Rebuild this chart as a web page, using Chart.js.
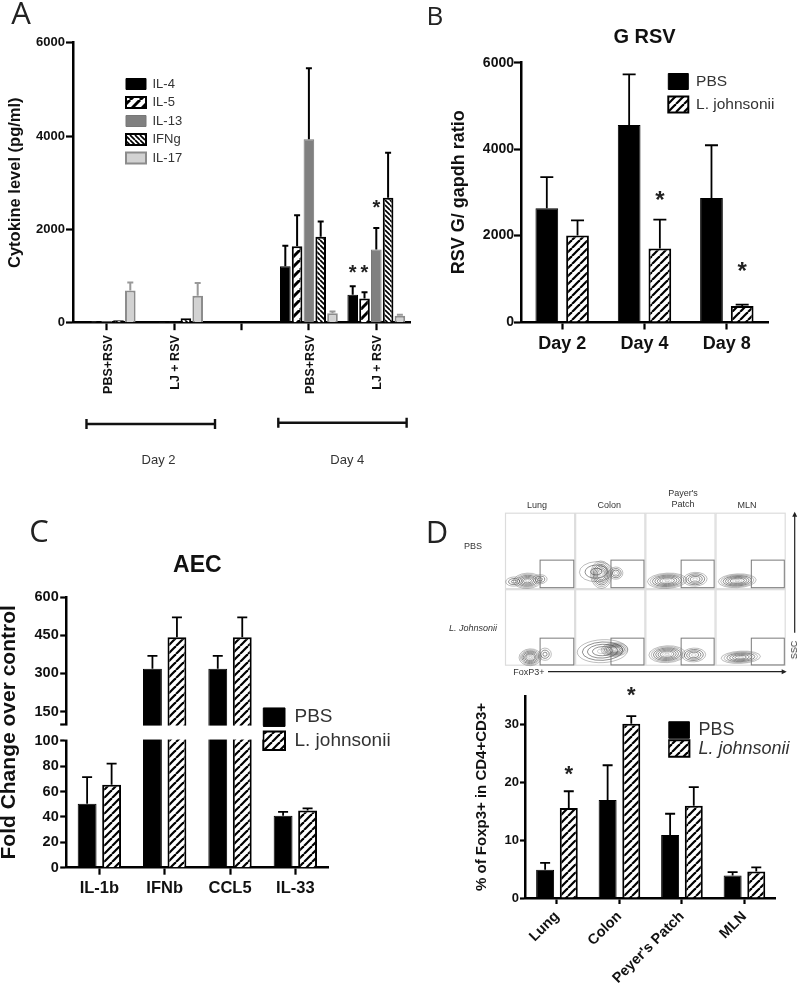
<!DOCTYPE html>
<html><head><meta charset="utf-8">
<script src="https://cdn.jsdelivr.net/npm/chart.js@4"></script>
<style>
html,body{margin:0;padding:0;background:#fff;width:800px;height:987px;overflow:hidden}
canvas{position:absolute}
.t{position:absolute;white-space:nowrap;transform:translate(-50%,-50%);font:9px "Liberation Sans",sans-serif;color:#333}
.l{position:absolute;transform:translate(-50%,-50%);font:400 30px "Open Sans",sans-serif;color:#222;line-height:1}
</style></head><body>
<script>
// ---------- DATA ----------
const aLabels=['PBS+RSV','LJ + RSV','','PBS+RSV','LJ + RSV'];
const aSeriesNames=['IL-4','IL-5','IL-13','IFNg','IL-17'];
const aIL4=[15,15,null,1210,600];
const aIL5=[25,15,null,1640,520];
const aIL13=[35,20,null,3930,1570];
const aIFNg=[50,95,null,1840,2680];
const aIL17=[690,580,null,200,150];
const aIL4Err=[null,null,null,1650,780];
const aIL5Err=[null,null,null,2300,650];
const aIL13Err=[null,null,null,5450,2030];
const aIFNgErr=[null,null,null,2170,3640];
const aIL17Err=[860,850,null,240,170];
const aStars=[[0,4,1150],[1,4,1150],[2,4,2540]];
const aGroups=[['Day 2',-0.3,1.607,0.77],['Day 4',2.546,4.45,3.57]];

const bLabels=['Day 2','Day 4','Day 8'];
const bPBS=[2630,4560,2870];
const bPBSErr=[3350,5730,4090];
const bLJ=[2000,1700,370];
const bLJErr=[2350,2370,400];
const bStars=[[1,1,2900],[1,2,1260]];

const cLabels=['IL-1b','IFNb','CCL5','IL-33'];
const cPBS=[50.4,318,318,41];
const cPBSErr=[71.4,369,369,44];
const cLJ=[65.4,442,442,45];
const cLJErr=[82,520,520,46.8];
const cTicks=[0,20,40,60,80,100,100.001,150,300,450,600];

const dLabels=['Lung','Colon',"Peyer's Patch",'MLN'];
const dPBS=[4.9,17,10.9,3.9];
const dPBSErr=[6.1,23,14.6,4.5];
const dLJ=[15.6,30.2,16,4.6];
const dLJErr=[18.5,31.5,19.2,5.3];
const dStars=[[1,0,22],[1,1,35.7]];

// contour clusters: column, row, centre x, centre y, radius x, radius y (percent of a cell), rings
const flowClusters=[
[0,0,32,89,20,10,7],[0,0,13,90,12,6,3],[0,0,50,87,10,6,3],
[1,0,37,81,15,18,8],[1,0,30,77,24,13,3],[1,0,58,79,10,8,4],
[2,0,31,89,28,10,8],[2,0,71,87,17,9,5],
[3,0,31,89,27,9,8],
[0,1,36,89,16,11,8],[0,1,57,85,9,8,3],
[1,1,56,79,19,9,8],[1,1,39,81,36,15,5],
[2,1,31,85,26,11,8],[2,1,69,86,17,9,5],
[3,1,36,89,28,8,7]];
const gateCols=[0.5,0.98];
const gateRows=[[0.62,0.98],[0.64,0.99]];
const flowTexts=[['Lung',537,504.7],['Colon',609.3,504.7],["Payer's",683,492.7],['Patch',683,504],['MLN',747,504.7],['PBS',473,546],['FoxP3+',529,671.7]];
const panelLetters=[['A',21,12,31],['B',435,15,26],['C',39,530,31],['D',437,531,31]];

// ---------- HELPERS ----------
const F='"Liberation Sans",Arial,sans-serif';
const bf=(s)=>({family:F,size:s,weight:'bold'});
function hatch(s,lw,back){
  const c=document.createElement('canvas');c.width=c.height=s;
  const g=c.getContext('2d');g.fillStyle='#fff';g.fillRect(0,0,s,s);
  g.strokeStyle='#000';g.lineWidth=lw;
  for(let k=-1;k<=1;k++){g.beginPath();
    if(back){g.moveTo(k*s,0);g.lineTo(k*s+s,s);}else{g.moveTo(k*s,s);g.lineTo(k*s+s,0);}
    g.stroke();}
  return g.createPattern(c,'repeat');
}
function mk(r){const c=document.createElement('canvas');c.width=r.w;c.height=r.h;c.style.left=r.l+'px';c.style.top=r.t+'px';document.body.appendChild(c);return c;}
function pad(r,p,yw,xh,th){return {padding:{left:p.x0-r.l-yw,right:r.l+r.w-p.x1,top:p.y0-r.t-(th||0),bottom:r.t+r.h-p.y1-xh}};}
function yAxis(o){return Object.assign({min:o.min,max:o.max,
  afterFit(s){s.width=o.w;s.paddingTop=0;s.paddingBottom=0;},
  border:{color:'#000',width:o.bw||2.5},
  grid:{drawOnChartArea:false,drawTicks:true,tickLength:o.tl,tickWidth:o.tw||2.2,tickColor:'#000'},
  title:{display:true,text:o.title,color:'#111',font:o.tf,padding:0},
  ticks:{stepSize:o.step,font:o.f,color:'#111',padding:o.p,includeBounds:false,callback:o.cb||(v=>String(v))}
},o.extra||{});}
function xAxis(o){return {
  afterFit(s){s.height=o.h;s.paddingLeft=0;s.paddingRight=0;},
  border:{color:'#000',width:o.bw||2.5},
  grid:{offset:false,drawOnChartArea:false,drawTicks:true,tickLength:o.tl,tickWidth:o.tw||2.2,tickColor:'#000'},
  ticks:{font:o.f,color:'#111',padding:o.p,autoSkip:false,minRotation:o.rot||0,maxRotation:o.rot||0,labelOffset:o.lo||0}
};}
function legendOpt(font,bw,bh,p,col){return {display:true,position:'chartArea',align:'start',
  labels:{font:font,boxWidth:bw,boxHeight:bh,padding:p,color:col||'#333'}};}
const marks=(lx,ly,stars,cap,lw,starSize)=>({id:'marks',
  beforeDraw(ch){const L=ch.legend;if(L&&L.options.display){const p=L.options.labels.padding;L.left=lx-p;L.top=ly-p;L.right=ch.width;L.bottom=ch.height;}},
  afterDatasetsDraw(ch){const g=ch.ctx,y=ch.scales.y;g.save();
    ch.data.datasets.forEach((d,i)=>{const m=ch.getDatasetMeta(i);(d.errorTop||[]).forEach((e,j)=>{
      if(e==null||d.data[j]==null)return;const b=m.data[j],top=y.getPixelForValue(e),v=y.getPixelForValue(d.data[j]);
      g.strokeStyle=d.errorColor||'#000';g.lineWidth=lw;g.beginPath();g.moveTo(b.x,v);g.lineTo(b.x,top);g.moveTo(b.x-cap/2,top);g.lineTo(b.x+cap/2,top);g.stroke();});});
    g.fillStyle='#222';g.font='bold '+starSize+'px '+F;g.textAlign='center';g.textBaseline='middle';
    (stars||[]).forEach(s=>{const b=ch.getDatasetMeta(s[0]).data[s[1]];g.fillText('*',b.x,y.getPixelForValue(s[2])+starSize*0.2);});
    g.restore();}
});
const base={responsive:false,animation:false,events:[]};
const ttl=(t,size,pb)=>({display:true,text:t,color:'#111',fullSize:false,font:bf(size),padding:{top:0,bottom:pb}});
const noTitle={display:false};
const tooltipOff={enabled:false};

// ---------- PANEL A ----------
(function(){
const r={l:0,t:0,w:420,h:480},p={x0:73,x1:410,y0:42.7,y1:322.7};
const bar={barPercentage:0.9,categoryPercentage:0.875};
const ds=[
 {label:aSeriesNames[0],data:aIL4,errorTop:aIL4Err,backgroundColor:'#000',borderColor:'#000',borderWidth:1,...bar},
 {label:aSeriesNames[1],data:aIL5,errorTop:aIL5Err,backgroundColor:hatch(10,3),borderColor:'#000',borderWidth:2,...bar},
 {label:aSeriesNames[2],data:aIL13,errorTop:aIL13Err,backgroundColor:'#808080',borderColor:'#777',borderWidth:1,...bar},
 {label:aSeriesNames[3],data:aIFNg,errorTop:aIFNgErr,backgroundColor:hatch(5,1.7,true),borderColor:'#000',borderWidth:2,...bar},
 {label:aSeriesNames[4],data:aIL17,errorTop:aIL17Err,errorColor:'#999',backgroundColor:'#d2d2d2',borderColor:'#8c8c8c',borderWidth:2,...bar}];
const groups={id:'groups',afterDraw(ch){const g=ch.ctx,x=ch.scales.x;g.save();g.strokeStyle='#111';g.lineWidth=2.4;g.fillStyle='#333';
  g.font='13px '+F;g.textAlign='center';g.textBaseline='middle';
  aGroups.forEach((a,i)=>{const x0=x.getPixelForValue(a[1]),x1=x.getPixelForValue(a[2]),yy=ch.chartArea.bottom+(i?100:101.3);
    g.beginPath();g.moveTo(x0,yy);g.lineTo(x1,yy);g.moveTo(x0,yy-5);g.lineTo(x0,yy+5);g.moveTo(x1,yy-5);g.lineTo(x1,yy+5);g.stroke();
    g.fillText(a[0],x.getPixelForValue(a[3]),ch.chartArea.bottom+138);});
  g.restore();}};
new Chart(mk(r),{type:'bar',data:{labels:aLabels,datasets:ds},
 plugins:[marks(126,77.5,aStars,6,2,20),groups],
 options:{...base,layout:pad(r,p,67,85),
  plugins:{title:noTitle,tooltip:tooltipOff,legend:legendOpt({family:F,size:13},20,11,5.5)},
  scales:{x:xAxis({h:85,tl:7.5,f:bf(12.5),p:5,rot:90,lo:1.5}),
   y:yAxis({min:0,max:6000,step:2000,w:67,tl:7,p:1,f:bf(13),title:'Cytokine level (pg/ml)',tf:Object.assign(bf(16.5),{lineHeight:1.2})})}}});
})();

// ---------- PANEL B ----------
(function(){
const r={l:420,t:0,w:380,h:370},p={x0:521,x1:768,y0:62.7,y1:322};
const bar={barPercentage:0.74,categoryPercentage:0.746};
new Chart(mk(r),{type:'bar',data:{labels:bLabels,datasets:[
 {label:'PBS',data:bPBS,errorTop:bPBSErr,backgroundColor:'#000',borderColor:'#000',borderWidth:1,...bar},
 {label:'L. johnsonii',data:bLJ,errorTop:bLJErr,backgroundColor:hatch(8,2.2),borderColor:'#000',borderWidth:2,...bar}]},
 plugins:[marks(248.3,73.5,bStars,13,1.8,24)],
 options:{...base,layout:pad(r,p,72.5,40,37),
  plugins:{title:ttl('G RSV',20,13),tooltip:tooltipOff,legend:legendOpt({family:F,size:15.5},20,16,7)},
  scales:{x:xAxis({h:40,tl:7.5,f:bf(18),p:4}),
   y:yAxis({min:0,max:6000,step:2000,w:72.5,tl:7,p:0,f:bf(14),title:'RSV G/ gapdh ratio',tf:Object.assign(bf(18),{lineHeight:1.2})})}}});
})();

// ---------- PANEL C (broken value axis) ----------
class BrokenScale extends Chart.LinearScale{
  static id='broken';
  static defaults={};
  getPixelForValue(v){
    const low=0.469,up=0.5294;
    return this.getPixelForDecimal(v<=100?v/100*low:up+(v-100)/500*(1-up));
  }
}
Chart.register(BrokenScale);
(function(){
const r={l:0,t:510,w:420,h:400},p={x0:66.7,x1:328,y0:597,y1:867.7};
const bar={barPercentage:0.77,categoryPercentage:0.75};
const gap={id:'gap',afterDatasetsDraw(ch){const g=ch.ctx,y=ch.scales.y,x=ch.scales.x;
  const y0=y.getPixelForValue(100.001)+1.2,y1=y.getPixelForValue(100)-1.2,x0=x.left-2,x1=x.getPixelForValue(2.5);
  g.save();g.fillStyle='#fff';g.fillRect(x0,y0,x1-x0,y1-y0);g.restore();}};
new Chart(mk(r),{type:'bar',data:{labels:cLabels,datasets:[
 {label:'PBS',data:cPBS,errorTop:cPBSErr,backgroundColor:'#000',borderColor:'#000',borderWidth:1,...bar},
 {label:'L. johnsonii',data:cLJ,errorTop:cLJErr,backgroundColor:hatch(8,2.2),borderColor:'#000',borderWidth:2,...bar}]},
 plugins:[marks(263.3,197.7,[],10,1.8,20),gap],
 options:{...base,layout:pad(r,p,66.7,40,45),
  plugins:{title:ttl('AEC',23,17.4),tooltip:tooltipOff,legend:legendOpt({family:F,size:19},21.7,18.5,4.5)},
  scales:{x:xAxis({h:40,tl:7,f:bf(16.5),p:4}),
   y:Object.assign(yAxis({min:0,max:600,w:66.7,tl:6.5,p:1.5,f:bf(14.5),title:'Fold Change over control',tf:Object.assign(bf(21),{lineHeight:0.86}),cb:v=>v===cTicks[6]?'':String(v)}),
     {type:'broken',afterBuildTicks(s){s.ticks=cTicks.map(v=>({value:v}));}})}}});
})();

// ---------- PANEL D bars ----------
(function(){
const r={l:440,t:680,w:360,h:307},p={x0:525.7,x1:775.7,y0:696,y1:898};
const bar={barPercentage:0.76,categoryPercentage:0.757};
const legendFont={family:F,size:18},lx=228.7,ly=41,boxW=20.7;
// the second legend entry is italic in the figure; the legend box stays and its name is set here
const italic={id:'italic',afterDraw(ch){const g=ch.ctx;g.save();g.font='italic 18px '+F;g.fillStyle='#333';g.textBaseline='middle';g.textAlign='left';
  g.fillText(ch.data.datasets[1].label,lx+boxW+9,ly+18.5+9.5);g.restore();}};
const lg=legendOpt(legendFont,boxW,16.5,0.5);
lg.labels.generateLabels=ch=>Chart.defaults.plugins.legend.labels.generateLabels(ch).map((it,i)=>i===1?{...it,text:''}:it);
new Chart(mk(r),{type:'bar',data:{labels:dLabels,datasets:[
 {label:'PBS',data:dPBS,errorTop:dPBSErr,backgroundColor:'#000',borderColor:'#000',borderWidth:1,...bar},
 {label:'L. johnsonii',data:dLJ,errorTop:dLJErr,backgroundColor:hatch(8,2.2),borderColor:'#000',borderWidth:2,...bar}]},
 plugins:[marks(lx,ly,dStars,10,1.8,22),italic],
 options:{...base,layout:pad(r,p,53,88),
  plugins:{title:noTitle,tooltip:tooltipOff,legend:lg},
  scales:{x:xAxis({h:88,tl:6,f:bf(14.5),p:4,rot:45}),
   y:yAxis({min:0,max:35,step:10,w:53,tl:5.7,p:1,f:bf(13),title:'% of Foxp3+ in CD4+CD3+',tf:Object.assign(bf(15),{lineHeight:1.2})})}}});
})();

// ---------- PANEL D contour grid ----------
(function(){
const r={l:420,t:485,w:380,h:195},p={x0:505,x1:785.7,y0:512.7,y1:665.7};
const draw={id:'flow',afterDatasetsDraw(ch){const g=ch.ctx,x=ch.scales.x,y=ch.scales.y,X=v=>x.getPixelForValue(v),Y=v=>y.getPixelForValue(v);
  g.save();
  for(let c=0;c<4;c++)for(let w=0;w<2;w++){
    g.strokeStyle='#dcdcdc';g.lineWidth=1.2;g.strokeRect(X(c)+.5,Y(w)+.5,X(c+1)-X(c)-1,Y(w+1)-Y(w)-1);}
  g.filter='blur(0.5px)';
  flowClusters.forEach(k=>{const cx=X(k[0]+k[2]/100),cy=Y(k[1]+k[3]/100),rx=X(k[4]/100)-X(0),ry=Y(k[5]/100)-Y(0),n=k[6];
    for(let i=1;i<=n;i++){const f=i/n,al=f>0.8?0.35:(f>0.25?0.6:0.25);g.beginPath();g.ellipse(cx,cy,rx*f,ry*f,-0.05,0,Math.PI*2);
      g.strokeStyle='rgba(70,70,70,'+al+')';g.lineWidth=1;g.stroke();}});
  g.filter='none';
  for(let c=0;c<4;c++)for(let w=0;w<2;w++){
    const off=c?0.01:0;
    g.strokeStyle='#7a7a7a';g.lineWidth=1;
    g.strokeRect(X(c+gateCols[0]+off),Y(w+gateRows[w][0]),X(gateCols[1]-off)-X(gateCols[0]),Y(gateRows[w][1])-Y(gateRows[w][0]));}
  g.restore();
  const a=ch.chartArea;g.save();g.strokeStyle='#222';g.fillStyle='#222';g.lineWidth=1.2;
  const ay=a.bottom+6,ax=a.right+9;
  g.beginPath();g.moveTo(a.left+43,ay);g.lineTo(a.right-1,ay);g.moveTo(ax,a.top+1);g.lineTo(ax,a.top+120);g.stroke();
  g.beginPath();g.moveTo(a.right+1,ay);g.lineTo(a.right-4,ay-2.5);g.lineTo(a.right-4,ay+2.5);g.closePath();g.fill();
  g.beginPath();g.moveTo(ax,a.top-1);g.lineTo(ax-2.5,a.top+4);g.lineTo(ax+2.5,a.top+4);g.closePath();g.fill();
  g.restore();}};
new Chart(mk(r),{type:'scatter',data:{datasets:[{data:flowClusters.map(k=>({x:k[0]+k[2]/100,y:k[1]+k[3]/100})),pointRadius:0}]},
 plugins:[draw],
 options:{...base,layout:{padding:{left:p.x0-r.l,right:r.l+r.w-p.x1,top:p.y0-r.t,bottom:r.t+r.h-p.y1}},
  plugins:{legend:{display:false},title:noTitle,tooltip:tooltipOff},
  scales:{x:{type:'linear',display:false,min:0,max:4},y:{type:'linear',display:false,min:0,max:2,reverse:true}}}});
})();

// ---------- plain text ----------
flowTexts.forEach(a=>{const s=document.createElement('span');s.className='t';s.textContent=a[0];s.style.left=a[1]+'px';s.style.top=a[2]+'px';document.body.appendChild(s);});
(function(){const s=document.createElement('span');s.className='t';s.textContent='L. Johnsonii';s.style.cssText='left:473px;top:628px;font-style:italic';document.body.appendChild(s);
const u=document.createElement('span');u.className='t';u.textContent='SSC';u.style.cssText='left:794px;top:650px;transform:translate(-50%,-50%) rotate(-90deg)';document.body.appendChild(u);})();
panelLetters.forEach(a=>{const s=document.createElement('span');s.className='l';s.textContent=a[0];s.style.left=a[1]+'px';s.style.top=a[2]+'px';s.style.fontSize=a[3]+'px';document.body.appendChild(s);});
</script>
</body></html>
